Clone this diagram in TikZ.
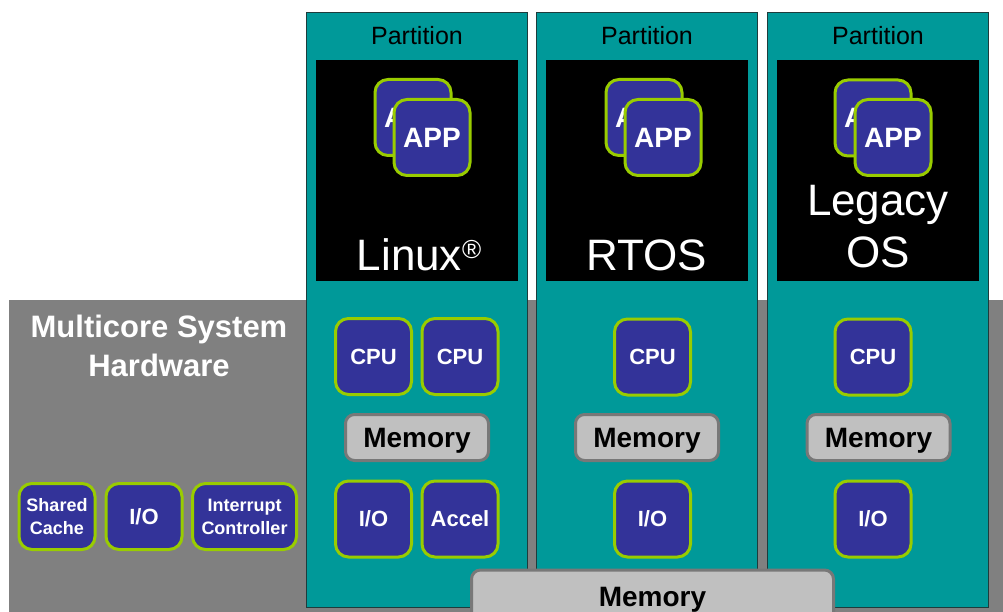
\documentclass[tikz,border=0pt]{standalone}
\usepackage{fontspec}
\setmainfont{Liberation Sans}
\definecolor{partteal}{RGB}{0,153,153}
\definecolor{partedge}{RGB}{30,60,60}
\definecolor{hwgrey}{RGB}{128,128,128}
\definecolor{chipblue}{RGB}{51,51,153}
\definecolor{chipgreen}{RGB}{153,204,0}
\definecolor{memfill}{RGB}{192,192,192}
\definecolor{memedge}{RGB}{120,120,120}
\tikzset{
  partbox/.style={draw=partedge, line width=1.5pt, fill=partteal, minimum width=221pt, minimum height=595pt, inner sep=0pt},
  osbox/.style={fill=black, minimum width=202pt, minimum height=221pt, inner sep=0pt},
  chip/.style={draw=chipgreen, line width=3pt, fill=chipblue, rounded corners=13pt,
    minimum width=76pt, minimum height=76pt, inner sep=0pt, text=white, align=center,
    font=\bfseries\fontsize{22}{24}\selectfont},
  appchip/.style={chip, font=\bfseries\fontsize{28}{30}\selectfont},
  hwchip/.style={chip, minimum height=66pt, font=\bfseries\fontsize{18}{23}\selectfont},
  membox/.style={draw=memedge, line width=3pt, fill=memfill, rounded corners=9pt,
    minimum width=143pt, minimum height=46pt, inner sep=0pt, text depth=0pt,
    font=\bfseries\fontsize{28}{30}\selectfont},
  parttitle/.style={anchor=base, font=\fontsize{25}{27}\selectfont},
  ostext/.style={anchor=base, text=white, font=\fontsize{44}{46}\selectfont},
  hwtext/.style={anchor=base, text=white, font=\bfseries\fontsize{31}{33}\selectfont}
}
\begin{document}
\begin{tikzpicture}[x=1pt,y=-1pt]
\useasboundingbox (0,0) rectangle (1003,612);
\clip (0,0) rectangle (1003,612);
\fill[white] (0,0) rectangle (1003,612);

% hardware base
\node[fill=hwgrey, minimum width=994pt, minimum height=312pt, inner sep=0pt, anchor=north west] (hw) at (9,300) {};
\node[hwtext] (hwt1) at (159,337) {Multicore System};
\node[hwtext] (hwt2) at (159,376) {Hardware};
\node[hwchip] (cache) at (57,516.5) {Shared\\Cache};
\node[hwchip, font=\bfseries\fontsize{22}{24}\selectfont] (hwio) at (144,516.5) {I/O};
\node[hwchip, minimum width=104pt] (irq) at (244.5,516.5) {Interrupt\\Controller};

% partitions
\node[partbox] (p1) at (417,310) {};
\node[partbox] (p2) at (647,310) {};
\node[partbox] (p3) at (878,310) {};
\node[parttitle] (t1) at (417,45) {Partition};
\node[parttitle] (t2) at (647,45) {Partition};
\node[parttitle] (t3) at (878,45) {Partition};

% guest operating systems
\node[osbox] (os1) at (417,170.5) {};
\node[osbox] (os2) at (647,170.5) {};
\node[osbox] (os3) at (877.5,170.5) {};

\node[appchip] (a1b) at (413,117.5) {APP};
\node[appchip] (a1f) at (432,137.5) {APP};
\node[appchip] (a2b) at (644,117.5) {APP};
\node[appchip] (a2f) at (663,137.5) {APP};
\node[appchip] (a3b) at (873,118) {APP};
\node[appchip] (a3f) at (893,137.5) {APP};

\node[ostext] (linux) at (419,270) {Linux{\fontsize{26}{26}\selectfont\raisebox{12pt}{®}}};
\node[ostext] (rtos) at (647,270) {RTOS};
\node[ostext] (legacy) at (878,216) {Legacy};
\node[ostext] (legos) at (878,267) {OS};

% partition resources
\node[chip] (cpu1a) at (373.5,356.5) {CPU};
\node[chip] (cpu1b) at (460,356.5) {CPU};
\node[membox] (mem1) at (417,437.5) {Memory};
\node[chip] (io1) at (373.5,519) {I/O};
\node[chip] (acc1) at (460,519) {Accel};

\node[chip] (cpu2) at (652.5,357) {CPU};
\node[membox] (mem2) at (647,437.5) {Memory};
\node[chip] (io2) at (652.5,519) {I/O};

\node[chip] (cpu3) at (873,357) {CPU};
\node[membox] (mem3) at (878.5,437.5) {Memory};
\node[chip] (io3) at (873,519) {I/O};

% shared memory
\node[membox, minimum width=362pt, minimum height=54pt] (shmem) at (652.5,597) {Memory};
\end{tikzpicture}
\end{document}
